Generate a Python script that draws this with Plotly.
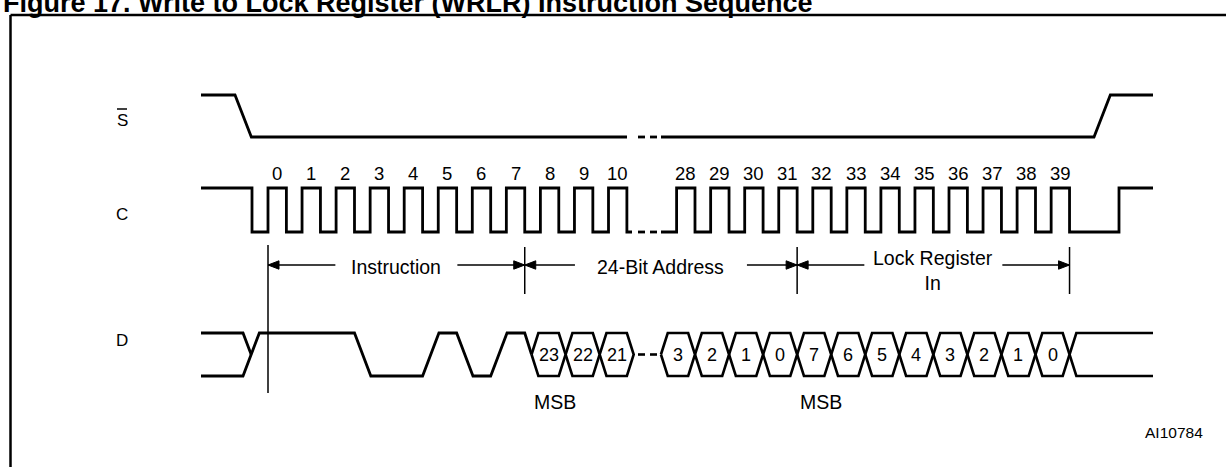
import plotly.graph_objects as go

# ---------------- data ----------------
figure_title = "Figure 17. Write to Lock Register (WRLR) Instruction Sequence"
figure_id = "AI10784"
signal_names = ["S", "C", "D"]

clock_numbers = [0, 1, 2, 3, 4, 5, 6, 7, 8, 9, 10,
                 28, 29, 30, 31, 32, 33, 34, 35, 36, 37, 38, 39]
clock_slots = [0, 1, 2, 3, 4, 5, 6, 7, 8, 9, 10,
               12, 13, 14, 15, 16, 17, 18, 19, 20, 21, 22, 23]

instruction_bits = [1, 1, 1, 0, 0, 1, 0, 1]          # WRLR = E5h, clocks 0..7
address_bits = ["23", "22", "21", "3", "2", "1", "0"]
address_clocks = [8, 9, 10, 28, 29, 30, 31]
data_bits = ["7", "6", "5", "4", "3", "2", "1", "0"]
data_clocks = [32, 33, 34, 35, 36, 37, 38, 39]

field_names = ["Instruction", "24-Bit Address", "Lock Register<br>In"]
field_first_clock = [0, 8, 32]
field_last_clock = [7, 31, 39]
msb_clocks = [8, 32]

# ---------------- geometry / style ----------------
W, H = 1226, 467
X0_PX, P_PX = 268.0, 34.05          # clock-0 rising edge and clock period (px)


def px(x):
    return (x - X0_PX) / P_PX


slot_of = dict(zip(clock_numbers, clock_slots))
HIGH = 0.54        # clock high time (slots)
TR = 0.48          # edge time of single-line transitions (slots)
HX = 0.2           # half width of bus crossing (slots)
SEG1_SHIFT = 0.2   # bus drawn slightly later before the break
START, END = px(201), px(1153)

S_HI, S_LO = 95, 137
C_HI, C_LO = 188, 232
D_HI, D_LO = 333, 376
D_MID = (D_HI + D_LO) / 2
ARROW_Y = 265
LW = 2.8
FONT = "Liberation Sans, Arial, sans-serif"
BLACK = "#000000"


def fall(s):
    return s + HIGH


dash_spans = [(px(638), px(645)), (px(650), px(657))]
break_resume = px(661)

traces = []


def add_line(xs, ys, width=LW):
    traces.append(go.Scatter(x=xs, y=ys, mode="lines", hoverinfo="skip",
                             line=dict(color=BLACK, width=width)))


def dashes(y):
    xs, ys = [], []
    for a, b in dash_spans:
        xs += [a, b, None]
        ys += [y, y, None]
    return xs, ys


# ---- S# ----
s_fall, s_rise = px(235), px(1094)
sx = [START, s_fall, s_fall + TR, px(627), None, break_resume, s_rise, s_rise + TR, END]
sy = [S_HI, S_HI, S_LO, S_LO, None, S_LO, S_LO, S_HI, S_HI]
dx, dy = dashes(S_LO)
add_line(sx + [None] + dx, sy + [None] + dy)

# ---- C ----
c_first_fall = px(252)
cx = [START, c_first_fall, c_first_fall]
cy = [C_HI, C_HI, C_LO]
prev = None
for s in clock_slots:
    if prev is not None and s - prev > 1:
        cx += [px(632), None, break_resume]
        cy += [C_LO, None, C_LO]
    cx += [s, s, fall(s), fall(s)]
    cy += [C_LO, C_HI, C_HI, C_LO]
    prev = s
c_last_rise = px(1119)
cx += [c_last_rise, c_last_rise, END]
cy += [C_LO, C_HI, C_HI]
dx, dy = dashes(C_LO)
add_line(cx + [None] + dx, cy + [None] + dy)


# ---- D : instruction ----
def lvl(b):
    return D_HI if b else D_LO


d_y0 = px(243)
first = lvl(instruction_bits[0])
other = lvl(1 - instruction_bits[0])
ix = [START, d_y0, d_y0 + TR / 2, None, START, d_y0, d_y0 + TR]
iy = [first, first, D_MID, None, other, other, first]
for k in range(len(instruction_bits) - 1):
    a, b = instruction_bits[k], instruction_bits[k + 1]
    if a != b:
        ix += [fall(k), fall(k) + TR]
        iy += [lvl(a), lvl(b)]
last = len(instruction_bits) - 1
ix += [fall(last), fall(last) + SEG1_SHIFT]
iy += [lvl(instruction_bits[last]), D_MID]
add_line(ix, iy)

# ---- D : bus hexagons ----
hx, hy = [], []
hex_centers, hex_labels = [], []
bus_labels = address_bits + data_bits
bus_clocks = address_clocks + data_clocks
bus_ends = []
for lab, clk in zip(bus_labels, bus_clocks):
    s = slot_of[clk]
    sh = SEG1_SHIFT if s <= 10 else 0.0
    c0, c1 = fall(s - 1) + sh, fall(s) + sh
    hx += [c0, c0 + HX, c1 - HX, c1, c1 - HX, c0 + HX, c0, None]
    hy += [D_MID, D_HI, D_HI, D_MID, D_LO, D_LO, D_MID, None]
    hex_centers.append((c0 + c1) / 2)
    hex_labels.append(lab)
    bus_ends.append(c1)
ce = bus_ends[-1]
hx += [ce, ce + HX, END, None, ce, ce + HX, END]
hy += [D_MID, D_HI, D_HI, None, D_MID, D_LO, D_LO]
dx, dy = dashes(D_MID)
add_line(hx + [None] + dx, hy + [None] + dy, width=2.6)

# ---- field markers & arrows ----
edges = []
for f0, f1 in zip(field_first_clock, field_last_clock):
    left = slot_of[f0] if f0 == 0 else fall(slot_of[f0] - 1)
    right = fall(slot_of[f1])
    edges.append((left, right))
marker_x = sorted(set([round(e, 6) for pair in edges for e in pair]))
mx, my = [], []
for i, m in enumerate(marker_x):
    bottom = 393 if i == 0 else 294
    top = 245 if i == 0 else 247
    mx += [m, m, None]
    my += [top, bottom, None]
add_line(mx, my, width=1.5)

half_gap_px = [61, 86, 69]
ax_, ay_ = [], []
heads_x, heads_y = [], []
AL, AH = px(268 + 11) - px(268), 4.2
for (l, r), g in zip(edges, half_gap_px):
    c = (l + r) / 2
    gg = g / P_PX
    ax_ += [l, c - gg, None, c + gg, r, None]
    ay_ += [ARROW_Y, ARROW_Y, None, ARROW_Y, ARROW_Y, None]
    heads_x += [l, l + AL, l + AL, l, None, r, r - AL, r - AL, r, None]
    heads_y += [ARROW_Y, ARROW_Y - AH, ARROW_Y + AH, ARROW_Y, None,
                ARROW_Y, ARROW_Y - AH, ARROW_Y + AH, ARROW_Y, None]
add_line(ax_, ay_, width=1.5)
traces.append(go.Scatter(x=heads_x, y=heads_y, mode="lines", fill="toself",
                         fillcolor=BLACK, hoverinfo="skip",
                         line=dict(color=BLACK, width=1)))

fig = go.Figure(traces)

ann = []


def text(x, y, t, size, xref="x", yref="y", xanchor="center", bold=False):
    ann.append(dict(x=x, y=y, xref=xref, yref=yref, text=("<b>%s</b>" % t) if bold else t,
                    showarrow=False, xanchor=xanchor, yanchor="middle",
                    font=dict(family=FONT, size=size, color=BLACK)))


for n, s in zip(clock_numbers, clock_slots):
    text(s + HIGH / 2, 173.5, str(n), 18.5)
for c, lab in zip(hex_centers, hex_labels):
    text(c, D_MID, lab, 18)
for (l, r), name in zip(edges, field_names):
    yy = ARROW_Y + 5.5 if "<br>" in name else ARROW_Y + 1.5
    text((l + r) / 2, yy, name, 19.5)
for clk in msb_clocks:
    s = slot_of[clk]
    sh = SEG1_SHIFT if s <= 10 else 0.0
    text((fall(s - 1) + fall(s)) / 2 + sh + 0.2, 401.7, "MSB", 19.5)
name_y = [120.5, 214, 340]
for nm, yy in zip(signal_names, name_y):
    text(px(122), yy, nm, 17)
text(px(1174), 432, figure_id, 15.5)
text(1 / W, 1 - 3.0 / H, figure_title, 27, xref="paper", yref="paper",
     xanchor="left", bold=True)

shapes = [
    dict(type="line", xref="x", yref="y", x0=px(117), x1=px(127), y0=109, y1=109,
         line=dict(color=BLACK, width=1.5)),
    dict(type="line", xref="paper", yref="paper", x0=10.5 / W, x1=1.0,
         y0=1 - 15 / H, y1=1 - 15 / H, line=dict(color=BLACK, width=2.5)),
    dict(type="line", xref="paper", yref="paper", x0=10.5 / W, x1=10.5 / W,
         y0=1 - 15 / H, y1=0, line=dict(color=BLACK, width=2.5)),
]

fig.update_layout(
    width=W, height=H, margin=dict(l=0, r=0, t=0, b=0),
    paper_bgcolor="white", plot_bgcolor="white", showlegend=False,
    xaxis=dict(range=[px(0), px(W)], visible=False, fixedrange=True),
    yaxis=dict(range=[H, 0], visible=False, fixedrange=True),
    annotations=ann, shapes=shapes,
)
fig.write_html("out.html", config={"displayModeBar": False},
               post_script="document.body.style.margin='0';document.body.style.overflow='hidden';")
